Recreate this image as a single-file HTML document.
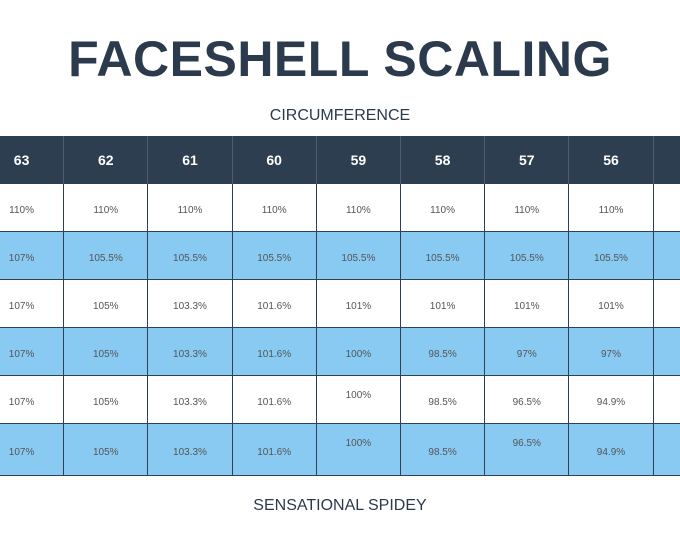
<!DOCTYPE html>
<html><head><meta charset="utf-8"><style>
body{margin:0;width:680px;height:540px;background:#fff;position:relative;overflow:hidden;font-family:"Liberation Sans",sans-serif}
#title{position:absolute;left:0;width:680px;top:30px;text-align:center;font-weight:bold;font-size:50px;color:#2b3a4c;letter-spacing:0.5px}
.sub{position:absolute;left:0;width:680px;text-align:center;font-size:16px;color:#2b3a4c}
#tbl{position:absolute;left:0;top:0;width:680px;height:540px;overflow:hidden}
.c{position:absolute;box-sizing:border-box;border-right:1.5px solid #2f4053;border-bottom:1.5px solid #2f4053;display:flex;align-items:center;justify-content:center;font-size:10px;color:#555;padding-top:5px}
.h{background:#2d3e50;color:#fff;font-weight:bold;font-size:14px;border-right:1px solid #4c5d70;border-bottom:none;padding-top:0}
.b{background:#88caf2}
.w{background:#fff}
</style></head><body>
<div id="title">FACESHELL SCALING</div>
<div class="sub" style="top:107px">CIRCUMFERENCE</div>
<div class="sub" style="top:497px">SENSATIONAL SPIDEY</div>
<div id="tbl"></div>
<script>
const sizes=["63","62","61","60","59","58","57","56",""];
const rows=[
["110%","110%","110%","110%","110%","110%","110%","110%",""],
["107%","105.5%","105.5%","105.5%","105.5%","105.5%","105.5%","105.5%",""],
["107%","105%","103.3%","101.6%","101%","101%","101%","101%",""],
["107%","105%","103.3%","101.6%","100%","98.5%","97%","97%",""],
["107%","105%","103.3%","101.6%","100%","98.5%","96.5%","94.9%",""],
["107%","105%","103.3%","101.6%","100%","98.5%","96.5%","94.9%",""]];
const tbl=document.getElementById('tbl');
const x0=-20,cw=84.2,top0=136,hh=48,rh=48;
function cell(x,y,w,h,cls,txt,name,pad){
const d=document.createElement('div');
d.className='c '+cls;
d.style.left=x+'px';d.style.top=y+'px';d.style.width=w+'px';d.style.height=h+'px';
if(pad){d.style.alignItems='flex-start';d.style.paddingTop='14px';}
d.textContent=txt;


tbl.appendChild(d);}
sizes.forEach((s,i)=>cell(x0+i*cw,top0,cw,hh,'h',s,'header-size-'+(s||'extra'),false));
rows.forEach((r,ri)=>{
r.forEach((v,ci)=>{
const raised=(ri>=4&&ci==4)||(ri==5&&ci==6);
cell(x0+ci*cw,top0+hh+ri*rh,cw,ri==5?52:rh,ri%2?'b':'w',v,'cell-r'+(ri+1)+'-c'+(ci+1),raised);
});});
</script>
</body></html>
